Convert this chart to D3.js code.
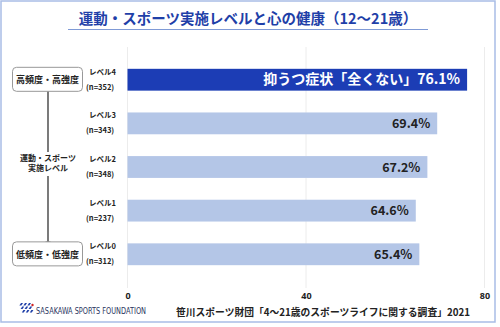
<!DOCTYPE html>
<html><head><meta charset="utf-8">
<script src="https://cdn.jsdelivr.net/npm/d3@7"></script>
<style>body{margin:0;background:#fff}svg{display:block;font-family:"Noto Sans CJK JP","Noto Sans",sans-serif}</style>
</head><body><svg id="c" width="500" height="327"></svg>
<script>
const levels = ["レベル4","レベル3","レベル2","レベル1","レベル0"];
const counts = ["(n=352)","(n=343)","(n=348)","(n=237)","(n=312)"];
const values = [76.1, 69.4, 67.2, 64.6, 65.4];
const xTicks = [0, 40, 80];
const title = "運動・スポーツ実施レベルと心の健康（12～21歳）";
const topLabel = "抑うつ症状「全くない」";
const source = "笹川スポーツ財団「4～21歳のスポーツライフに関する調査」2021";

const svg = d3.select("#c");
svg.append("rect").attr("x",1).attr("y",1).attr("width",494).attr("height",321)
  .attr("fill","#fff").attr("stroke","#a9bde6").attr("stroke-width",1.5);

// title
svg.append("text").attr("x",248).attr("y",24).attr("text-anchor","middle")
  .attr("font-size",14.5).attr("font-weight","bold").attr("fill","#1f3fa8").text(title);
svg.append("line").attr("x1",68).attr("x2",428).attr("y1",29.5).attr("y2",29.5)
  .attr("stroke","#7f9ad6").attr("stroke-width",1.2);

const x = d3.scaleLinear().domain([0,80]).range([127.5,484.5]);
const y = d3.scaleBand().domain(levels).range([47,287]).padding(0.5);

// gridlines
svg.append("g").selectAll("line").data(xTicks).join("line")
  .attr("x1",d=>x(d)).attr("x2",d=>x(d)).attr("y1",47).attr("y2",288)
  .attr("stroke","#ececec").attr("stroke-width",1);

// axis labels
const ax = svg.append("g").attr("transform","translate(0,288)")
  .call(d3.axisBottom(x).tickValues(xTicks).tickSize(0).tickPadding(5).tickFormat(d3.format("d")));
ax.select(".domain").remove();
ax.selectAll("text").attr("font-size",9).attr("font-weight","bold").attr("fill","#222")
  .attr("font-family","'Noto Sans',sans-serif");

// bars
svg.append("g").selectAll("rect").data(values).join("rect")
  .attr("x",x(0)).attr("y",(d,i)=>y(levels[i])).attr("height",y.bandwidth())
  .attr("width",d=>x(d)-x(0)).attr("fill",(d,i)=>i===0?"#1c3db5":"#b4c6e7");

// value labels
svg.append("g").selectAll("text").data(values).join("text")
  .attr("x",d=>x(d)-7).attr("y",(d,i)=>y(levels[i])+y.bandwidth()/2+4.5)
  .attr("text-anchor","end").attr("font-weight","bold")
  .attr("font-size",(d,i)=>i===0?14:12.5)
  .attr("fill",(d,i)=>i===0?"#fff":"#222")
  .text((d,i)=>(i===0?topLabel:"")+d.toFixed(1)+"%");

// level labels
const lg = svg.append("g");
levels.forEach((l,i)=>{
  const cy = y(l)+y.bandwidth()/2;
  lg.append("text").attr("x",89).attr("y",cy-5).attr("font-size",7.5).attr("font-weight","bold").attr("fill","#222").text(l);
  lg.append("text").attr("x",86).attr("y",cy+10).attr("font-size",7.5).attr("font-weight","bold").attr("fill","#222").text(counts[i]);
});

// arrow
const defs = svg.append("defs");
defs.append("marker").attr("id","ah").attr("viewBox","0 0 10 10").attr("refX",5).attr("refY",5)
  .attr("markerWidth",4).attr("markerHeight",4).attr("orient","auto-start-reverse")
  .append("path").attr("d","M0,0L10,5L0,10z").attr("fill","#333");
svg.append("line").attr("x1",48).attr("x2",48).attr("y1",88).attr("y2",244)
  .attr("stroke","#333").attr("stroke-width",1.3)
  .attr("marker-start","url(#ah)").attr("marker-end","url(#ah)");
svg.append("rect").attr("x",14).attr("y",152).attr("width",70).attr("height",24).attr("fill","#fff");
svg.append("text").attr("x",48).attr("y",161).attr("text-anchor","middle").attr("font-size",8).attr("font-weight","bold").attr("fill","#222").text("運動・スポーツ");
svg.append("text").attr("x",48).attr("y",171).attr("text-anchor","middle").attr("font-size",8).attr("font-weight","bold").attr("fill","#222").text("実施レベル");

// boxes
[["高頻度・高強度",y(levels[0])],["低頻度・低強度",y(levels[4])]].forEach(([t,yy])=>{
  svg.append("rect").attr("x",12.5).attr("y",yy-1.5).attr("width",70).attr("height",24).attr("rx",4)
    .attr("fill","#fff").attr("stroke","#999").attr("stroke-width",1);
  svg.append("text").attr("x",47.5).attr("y",yy+14.5).attr("text-anchor","middle").attr("font-size",9).attr("font-weight","bold").attr("fill","#222").text(t);
});

// logo
const logo = svg.append("g").attr("transform","translate(18,308)");
[0,4,8].forEach((o,k)=>{
  [0,1,2].forEach(r=>{
    logo.append("path").attr("d",`M${o+r*1.2+3},${-5+r*3.5}l2,0l-1.6,2.6l-2,0z`).attr("fill","#1f3fa8");
  });
});
logo.append("circle").attr("cx",14.5).attr("cy",-3).attr("r",1.2).attr("fill","#d02020");
svg.append("text").attr("x",36).attr("y",314).attr("font-size",8.5).attr("fill","#2a3560")
  .attr("font-family","'Liberation Sans Narrow','DejaVu Sans Condensed',sans-serif")
  .attr("textLength",110).attr("lengthAdjust","spacingAndGlyphs").text("SASAKAWA SPORTS FOUNDATION");

svg.append("text").attr("x",176).attr("y",316).attr("font-size",10).attr("font-weight","bold").attr("fill","#222")
  .attr("textLength",294).attr("lengthAdjust","spacingAndGlyphs").text(source);
</script></body></html>
